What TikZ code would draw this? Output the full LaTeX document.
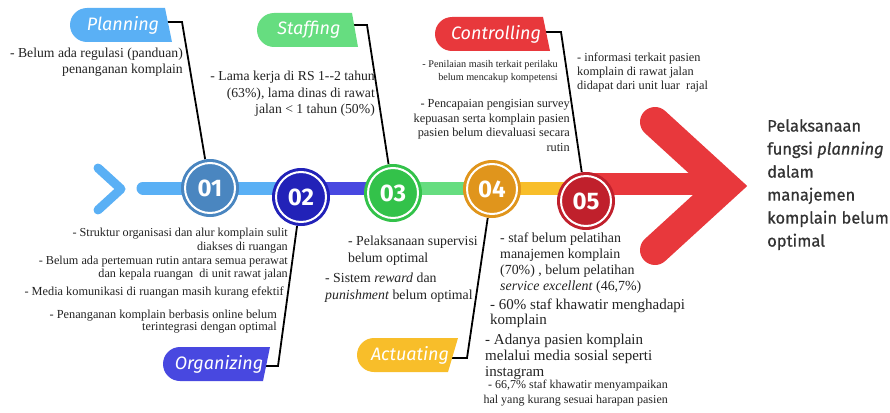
\documentclass[tikz,border=0pt]{standalone}
\usepackage{fontspec}
\setmainfont{Liberation Serif}
\newfontfamily\fira{Fira Sans}
\newfontfamily\firahead[FakeBold=0.7]{Fira Sans}
\definecolor{lblue}{HTML}{5AB0F5}
\definecolor{sblue}{HTML}{4A86C0}
\definecolor{cviolet}{HTML}{4848E0}
\definecolor{dblue}{HTML}{2222B8}
\definecolor{lgreen}{HTML}{66DD80}
\definecolor{cgreen}{HTML}{33C24A}
\definecolor{cyellow}{HTML}{F8BE2A}
\definecolor{corange}{HTML}{E0951C}
\definecolor{cred}{HTML}{E8383C}
\definecolor{dred}{HTML}{C0202C}
\definecolor{txt}{HTML}{222222}
\definecolor{head}{HTML}{333333}
\pgfdeclarelayer{lbar}
\pgfdeclarelayer{lconn}
\pgfdeclarelayer{ltab}
\pgfsetlayers{lbar,lconn,ltab,main}
\begin{document}
\begin{tikzpicture}[x=1pt,y=-1pt,
  num/.style={circle, minimum size=58pt, inner sep=0pt, text=white, font=\fira\bfseries\fontsize{24}{24}\selectfont},
  ring/.style={white, line width=2pt},
  tabtext/.style={inner sep=0pt, text=white, font=\fira\itshape\fontsize{18}{18}\selectfont},
  conn/.style={black, line width=1.8pt, line join=miter},
  bar/.style={line width=13pt},
  bodyR/.style={inner sep=0pt, anchor=north east, align=right, text=txt},
  bodyL/.style={inner sep=0pt, anchor=north west, align=left, text=txt},
  fs/.style 2 args={font=\fontsize{#1}{#2}\selectfont}
]
\useasboundingbox (0,0) rectangle (890,412);

% circles
\node[num, fill=sblue] (c1) at (210,188) {01};
\node[num, fill=dblue] (c2) at (301,197) {02};
\node[num, fill=cgreen] (c3) at (393,193) {03};
\node[num, fill=corange] (c4) at (492,189) {04};
\node[num, fill=dred] (c5) at (586,201) {05};
\foreach \c in {c1,c2,c3,c4,c5} \draw[ring] (\c.center) circle[radius=25pt];

% tab labels
\node[tabtext] (tplan) at (123,25) {Planning};
\node[tabtext] (tstaff) at (309,30) {Staffing};
\node[tabtext] (tctrl) at (496,34) {Controlling};
\node[tabtext] (torg) at (219,364) {Organizing};
\node[tabtext] (tact) at (410,355) {Actuating};

% bar, chevron and arrow
\coordinate (bstart) at (143,188);
\coordinate (vtip) at (725,186);
\coordinate (armtop) at (655,122);
\coordinate (armbot) at (655,250);
\coordinate (shaftend) at (715,184);
\begin{pgfonlayer}{lbar}
  \draw[lblue, line width=9pt, line cap=round, line join=round] (98,168) -- (121,189) -- (98,210);
  \draw[bar, lblue, line cap=round] (bstart) -- (bstart -| c2);
  \draw[bar, cviolet] (bstart -| c2) -- (bstart -| c3);
  \draw[bar, lgreen] (bstart -| c3) -- (bstart -| c4);
  \draw[bar, cyellow] (bstart -| c4) -- (bstart -| c5);
  \draw[cred, line width=22pt] (c5.center |- shaftend) -- (shaftend);
  \draw[cred, line width=30pt, line cap=round, line join=miter] (armtop) -- (vtip) -- (armbot);
\end{pgfonlayer}

% connectors
\coordinate (k1) at (182,22);
\coordinate (k3) at (367,25);
\coordinate (k5) at (561,32);
\coordinate (k2) at (278,366);
\coordinate (k4) at (467,358);
\begin{pgfonlayer}{lconn}
  \draw[conn] (tplan.east |- k1) -- (k1) -- (c1);
  \draw[conn] (tstaff.east |- k3) -- (k3) -- (c3);
  \draw[conn] (tctrl.east |- k5) -- (k5) -- (c5);
  \draw[conn] (torg.east |- k2) -- (k2) -- (c2);
  \draw[conn] (tact.east |- k4) -- (k4) -- (c4);
\end{pgfonlayer}

% tab shapes
\begin{pgfonlayer}{ltab}
  \fill[lblue] (87,8) -- (165,8) -- (172,42) -- (87,42) arc[start angle=270, end angle=90, radius=17pt] -- cycle;
  \fill[lgreen] (274,13) -- (352,13) -- (358,47) -- (274,47) arc[start angle=270, end angle=90, radius=17pt] -- cycle;
  \fill[cred] (452,17) -- (543,17) -- (550,51) -- (452,51) arc[start angle=270, end angle=90, radius=17pt] -- cycle;
  \fill[cviolet] (180,347) -- (270,347) -- (263,381) -- (180,381) arc[start angle=270, end angle=90, radius=17pt] -- cycle;
  \fill[cyellow] (374,338) -- (458,338) -- (448,372) -- (374,372) arc[start angle=270, end angle=90, radius=17pt] -- cycle;
\end{pgfonlayer}

% result text
\node[inner sep=0pt, anchor=north west, align=left, text=head, font=\firahead\fontsize{16.5}{23}\selectfont] (res) at (767,119)
  {Pelaksanaan\\fungsi \textit{planning}\\dalam\\manajemen\\komplain belum\\optimal};

% planning text
\node[bodyR, fs={13.7}{16}] (p1) at (183,47.5) {- Belum ada regulasi (panduan)\\penanganan komplain};
% staffing text
\node[bodyR, fs={13.7}{16.5}] (s0) at (375,71) {- Lama kerja di RS 1-{}-2 tahun\\(63\%), lama dinas di rawat\\jalan < 1 tahun (50\%)};
% controlling text
\node[bodyR, fs={10.2}{13}] (k1t) at (558,60.5) {- Penilaian masih terkait perilaku\\belum mencakup kompetensi};
\node[bodyR, fs={12.3}{14.7}] (k2t) at (570,99) {- Pencapaian pengisian survey\\kepuasan serta komplain pasien\\pasien belum dievaluasi secara\\rutin};
\node[bodyL, fs={12.3}{14}] (k3t) at (577,52.5) {- informasi terkait pasien\\komplain di rawat jalan\\didapat dari unit luar\ \ rajal};
% organizing text
\node[bodyR, fs={12.2}{14}] (o1) at (288,227.5) {- Struktur organisasi dan alur komplain sulit\\diakses di ruangan};
\node[bodyR, fs={12.2}{13}] (o2) at (288,256) {- Belum ada pertemuan rutin antara semua perawat\\dan kepala ruangan\ \ di unit rawat jalan};
\node[bodyR, fs={12.3}{14}] (o3) at (284,287) {- Media komunikasi di ruangan masih kurang efektif};
\node[bodyR, fs={12.3}{12.5}] (o4) at (277,309.5) {- Penanganan komplain berbasis online belum\\terintegrasi dengan optimal};
% staffing bottom text
\node[bodyL, fs={13.8}{17}] (sb1) at (348,235.5) {- Pelaksanaan supervisi\\belum optimal};
\node[bodyL, fs={13.8}{17}] (sb2) at (325,272.5) {- Sistem \textit{reward} dan\\\textit{punishment} belum optimal};
% actuating text
\node[bodyL, fs={13.9}{16}] (a1) at (500,232.5) {- staf belum pelatihan\\manajemen komplain\\(70\%) , belum pelatihan\\\textit{service excellent} (46,7\%)};
\node[bodyL, fs={15}{14.5}] (a2) at (490,299) {- 60\% staf khawatir menghadapi\\komplain};
\node[bodyL, fs={15}{16}] (a3) at (485,333.5) {- Adanya pasien komplain\\melalui media sosial seperti\\instagram};
\node[bodyR, fs={12}{15}] (a4) at (668,380) {- 66,7\% staf khawatir menyampaikan\\hal yang kurang sesuai harapan pasien};
\end{tikzpicture}
\end{document}
